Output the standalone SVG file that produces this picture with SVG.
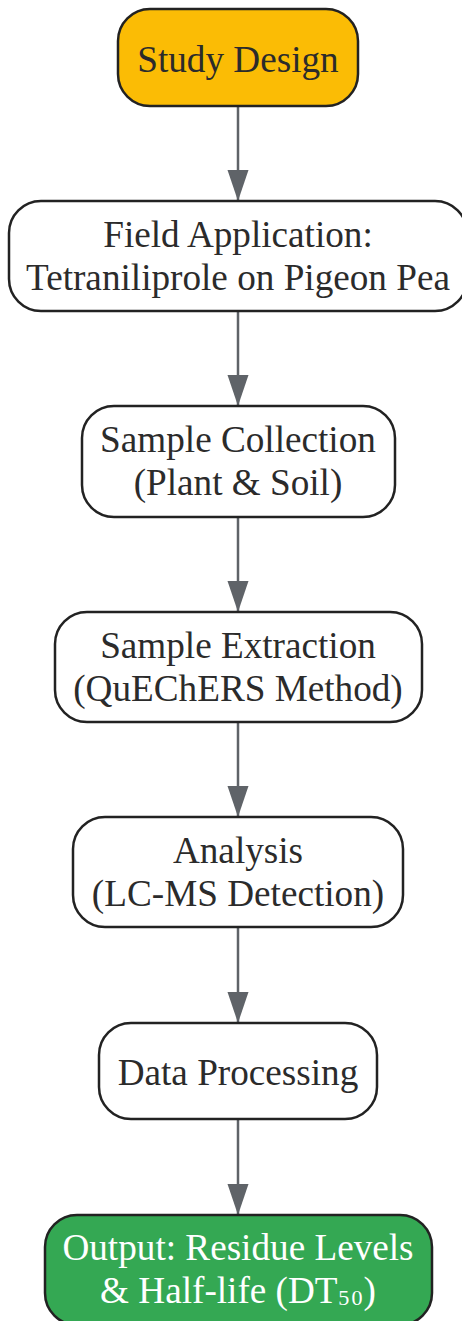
<svg xmlns="http://www.w3.org/2000/svg" width="462" height="1321" viewBox="0 0 462 1321">
  <style>
    .box { stroke: #222222; stroke-width: 2.5; }
    .plain { fill: #ffffff; }
    .lbl { font-family: "Liberation Serif", "Times New Roman", serif; font-size: 37.2px; fill: #2b2b2b; text-anchor: middle; }
    .lbl-w { fill: #ffffff; }
    .edge { stroke: #5f6368; stroke-width: 2.5; fill: none; }
  </style>
  <defs>
    <marker id="arrow" markerUnits="userSpaceOnUse" markerWidth="32" markerHeight="22" refX="31" refY="10.5" orient="auto">
      <path d="M0,0 L31,10.5 L0,21 Z" fill="#5f6368"/>
    </marker>
  </defs>
  <rect width="462" height="1321" fill="#ffffff"/>
  <g id="connectors">
    <line class="edge" x1="238" y1="106" x2="238" y2="201" marker-end="url(#arrow)"/>
    <line class="edge" x1="238" y1="311" x2="238" y2="406" marker-end="url(#arrow)"/>
    <line class="edge" x1="238" y1="517" x2="238" y2="612" marker-end="url(#arrow)"/>
    <line class="edge" x1="238" y1="722" x2="238" y2="817" marker-end="url(#arrow)"/>
    <line class="edge" x1="238" y1="927" x2="238" y2="1023" marker-end="url(#arrow)"/>
    <line class="edge" x1="238" y1="1119" x2="238" y2="1215" marker-end="url(#arrow)"/>
  </g>
  <g id="study-design">
    <rect class="box" x="118" y="9" width="240" height="97" rx="32" fill="#FBBC05"/>
    <text class="lbl" x="238" y="72">Study Design</text>
  </g>
  <g id="field-application">
    <rect class="box plain" x="9" y="201" width="458" height="110" rx="32"/>
    <text class="lbl" x="238" y="247">Field Application:</text>
    <text class="lbl" x="238" y="290">Tetraniliprole on Pigeon Pea</text>
  </g>
  <g id="sample-collection">
    <rect class="box plain" x="82" y="406" width="313" height="111" rx="32"/>
    <text class="lbl" x="238" y="452">Sample Collection</text>
    <text class="lbl" x="238" y="495">(Plant &amp; Soil)</text>
  </g>
  <g id="sample-extraction">
    <rect class="box plain" x="55" y="612" width="367" height="110" rx="32"/>
    <text class="lbl" x="238" y="658">Sample Extraction</text>
    <text class="lbl" x="238" y="701">(QuEChERS Method)</text>
  </g>
  <g id="analysis">
    <rect class="box plain" x="73" y="817" width="330" height="110" rx="32"/>
    <text class="lbl" x="238" y="863">Analysis</text>
    <text class="lbl" x="238" y="906">(LC-MS Detection)</text>
  </g>
  <g id="data-processing">
    <rect class="box plain" x="99" y="1023" width="278" height="96" rx="32"/>
    <text class="lbl" x="238" y="1085">Data Processing</text>
  </g>
  <g id="output">
    <rect class="box" x="45" y="1215" width="387" height="110" rx="32" fill="#34A853"/>
    <text class="lbl lbl-w" x="238" y="1260">Output: Residue Levels</text>
    <text class="lbl lbl-w" x="238" y="1303">&amp; Half-life (DT<tspan dy="-5">₅₀</tspan><tspan dy="5">)</tspan></text>
  </g>
</svg>
